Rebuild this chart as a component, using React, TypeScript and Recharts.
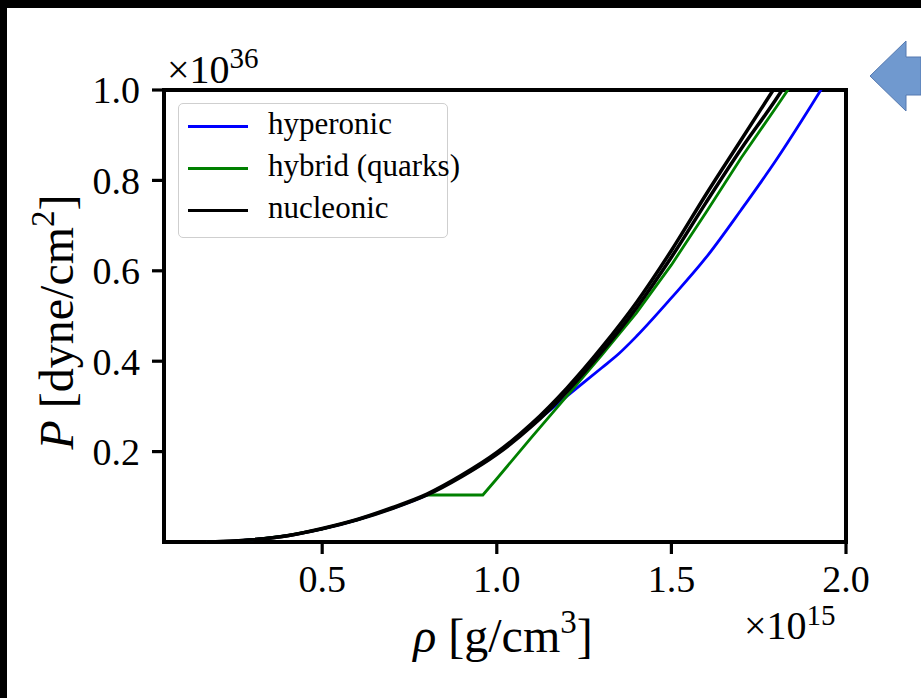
import React from "react";
import { LineChart, Line, XAxis, YAxis, ReferenceArea, Legend } from "recharts";

// density rho [1e15 g/cm^3] and pressure P [1e36 dyne/cm^2]
const nucleonicARho = [0.17, 0.25, 0.3, 0.4, 0.5, 0.6, 0.7, 0.8, 0.9, 1.0, 1.1, 1.2, 1.3, 1.4, 1.5, 1.6, 1.7, 1.8, 1.85];
const nucleonicAP = [0, 0.002, 0.005, 0.014, 0.03, 0.05, 0.076, 0.106, 0.148, 0.198, 0.262, 0.34, 0.43, 0.53, 0.645, 0.77, 0.89, 1.01, 1.07];

const nucleonicBRho = [0.17, 0.25, 0.3, 0.4, 0.5, 0.6, 0.7, 0.8, 0.9, 1.0, 1.1, 1.2, 1.3, 1.4, 1.5, 1.6, 1.7, 1.8, 1.85];
const nucleonicBP = [0, 0.002, 0.005, 0.014, 0.029, 0.049, 0.074, 0.104, 0.145, 0.194, 0.256, 0.332, 0.42, 0.518, 0.63, 0.752, 0.87, 0.98, 1.04];

const hyperonicRho = [0.17, 0.25, 0.3, 0.4, 0.5, 0.6, 0.7, 0.8, 0.9, 0.95, 1.0, 1.05, 1.1, 1.2, 1.3, 1.35, 1.4, 1.5, 1.6, 1.7, 1.8, 1.9, 1.96];
const hyperonicP = [0, 0.002, 0.005, 0.014, 0.029, 0.049, 0.074, 0.104, 0.146, 0.169, 0.195, 0.226, 0.258, 0.322, 0.385, 0.417, 0.455, 0.54, 0.63, 0.735, 0.845, 0.965, 1.04];

const hybridRho = [0.17, 0.25, 0.3, 0.4, 0.5, 0.6, 0.7, 0.8, 0.96, 1.0, 1.1, 1.2, 1.3, 1.4, 1.5, 1.6, 1.7, 1.8, 1.86];
const hybridP = [0, 0.002, 0.005, 0.014, 0.029, 0.049, 0.074, 0.104, 0.104, 0.14, 0.232, 0.322, 0.413, 0.507, 0.613, 0.73, 0.85, 0.962, 1.03];

const xTicks = [0.5, 1.0, 1.5, 2.0];
const yTicks = [0.2, 0.4, 0.6, 0.8, 1.0];
const xDomain = [0.047, 2.0];
const yDomain = [0, 1.0];

const legendOrder = ["hyperonic", "hybrid (quarks)", "nucleonic"];

const zip = (xs: number[], ys: number[]) => xs.map((x, i) => ({ rho: x, P: ys[i] }));

const FONT = "'Liberation Serif', 'Times New Roman', serif";

const LegendBox = (props: any) => {
  const payload = (props.payload || [])
    .filter((p: any) => p.type !== "none" && legendOrder.includes(p.value))
    .sort((a: any, b: any) => legendOrder.indexOf(a.value) - legendOrder.indexOf(b.value));
  return (
    <div
      style={{
        width: 270,
        height: 135,
        border: "1.5px solid #cfcfcf",
        borderRadius: 5,
        background: "rgba(255,255,255,0.8)",
        boxSizing: "border-box",
        position: "relative",
        fontFamily: FONT,
      }}
    >
      {payload.map((p: any, i: number) => (
        <div key={i} style={{ position: "absolute", left: 0, top: 2 + i * 42, height: 40, width: 268 }}>
          <div style={{ position: "absolute", left: 9, top: 19, width: 60, height: 2.5, background: p.color }} />
          <div style={{ position: "absolute", left: 89, top: 0, fontSize: 31, lineHeight: "36px", color: "#000", whiteSpace: "nowrap" }}>
            {p.value}
          </div>
        </div>
      ))}
    </div>
  );
};

export default function App() {
  return (
    <div style={{ position: "absolute", left: 0, top: 0, width: 921, height: 698, background: "#000", overflow: "hidden" }}>
      <div style={{ position: "absolute", left: 7, top: 8, width: 914, height: 690, background: "#fff" }} />
      <div style={{ position: "absolute", left: 0, top: 0 }}>
        <LineChart width={921} height={698} margin={{ top: 90, right: 75, left: 0, bottom: 0 }}>
          <XAxis
            type="number"
            dataKey="rho"
            domain={xDomain}
            allowDataOverflow
            ticks={xTicks}
            tickFormatter={(v: number) => v.toFixed(1)}
            height={156}
            axisLine={false}
            tickSize={12}
            tickMargin={11}
            tickLine={{ stroke: "#000", strokeWidth: 3.2 }}
            tick={{ fill: "#000", fontSize: 38, fontFamily: FONT }}
          />
          <YAxis
            type="number"
            dataKey="P"
            domain={yDomain}
            allowDataOverflow
            ticks={yTicks}
            tickFormatter={(v: number) => v.toFixed(1)}
            width={164}
            axisLine={false}
            tickSize={12}
            tickMargin={12}
            tickLine={{ stroke: "#000", strokeWidth: 3.2 }}
            tick={{ fill: "#000", fontSize: 38, fontFamily: FONT }}
          />
          <Line
            data={zip(hyperonicRho, hyperonicP)}
            dataKey="P"
            name="hyperonic"
            type="monotone"
            stroke="#0000ff"
            strokeWidth={2.8}
            dot={false}
            isAnimationActive={false}
          />
          <Line
            data={zip(hybridRho, hybridP)}
            dataKey="P"
            name="hybrid (quarks)"
            type="linear"
            stroke="#008000"
            strokeWidth={2.8}
            dot={false}
            isAnimationActive={false}
          />
          <Line
            data={zip(nucleonicARho, nucleonicAP)}
            dataKey="P"
            name="nucleonic"
            type="monotone"
            stroke="#000000"
            strokeWidth={3.5}
            dot={false}
            isAnimationActive={false}
          />
          <Line
            data={zip(nucleonicBRho, nucleonicBP)}
            dataKey="P"
            name="nucleonic (2)"
            legendType="none"
            type="monotone"
            stroke="#000000"
            strokeWidth={3.5}
            dot={false}
            isAnimationActive={false}
          />
          <ReferenceArea
            x1={xDomain[0]}
            x2={xDomain[1]}
            y1={yDomain[0]}
            y2={yDomain[1]}
            fill="none"
            fillOpacity={0}
            stroke="#000"
            strokeWidth={4}
            ifOverflow="visible"
          />
          <Legend
            layout="vertical"
            align="center"
            verticalAlign="middle"
            content={<LegendBox />}
            wrapperStyle={{ position: "absolute", left: 178, top: 103, width: 270 }}
          />
        </LineChart>
      </div>
      <svg width={921} height={698} style={{ position: "absolute", left: 0, top: 0, pointerEvents: "none" }}>
        <path d="M870,76 L906,41 L906,57 L921,57 L921,95 L906,95 L906,111 Z" fill="#7099CF" stroke="#5579B0" strokeWidth={1} />
        <text x={167} y={83} fontFamily={FONT} fontSize={40} fill="#000">
          ×10<tspan fontSize={29} dy={-15}>36</tspan>
        </text>
        <text x={744} y={639} fontFamily={FONT} fontSize={40} fill="#000">
          ×10<tspan fontSize={29} dy={-14}>15</tspan>
        </text>
        <text x={503} y={652} textAnchor="middle" fontFamily={FONT} fontSize={48} fill="#000">
          <tspan fontStyle="italic">ρ</tspan> [g/cm<tspan fontSize={33} dy={-19}>3</tspan><tspan dy={19}>]</tspan>
        </text>
        <text
          x={0}
          y={0}
          transform="translate(73,322) rotate(-90)"
          textAnchor="middle"
          fontFamily={FONT}
          fontSize={48}
          fill="#000"
        >
          <tspan fontStyle="italic">P</tspan> [dyne/cm<tspan fontSize={33} dy={-19}>2</tspan><tspan dy={19}>]</tspan>
        </text>
      </svg>
    </div>
  );
}
